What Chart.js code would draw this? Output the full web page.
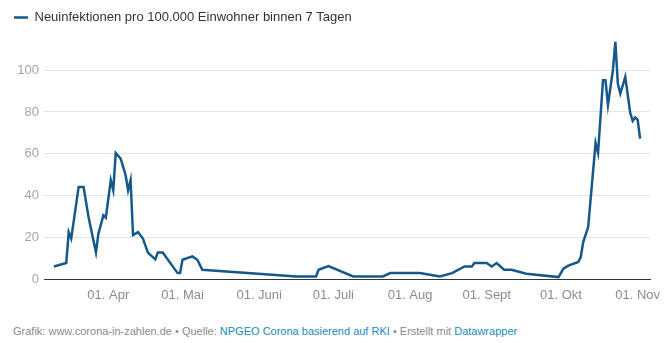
<!DOCTYPE html>
<html lang="de">
<head>
<meta charset="utf-8">
<title>Neuinfektionen pro 100.000 Einwohner</title>
<script src="https://cdn.jsdelivr.net/npm/chart.js@4/dist/chart.umd.min.js"></script>
<style>
  html, body { margin: 0; padding: 0; background: #fff; }
  #wrap { position: relative; width: 672px; height: 343px; font-family: "Liberation Sans", Arial, sans-serif; }
  #chart-box { position: absolute; left: 0; top: 0; width: 672px; height: 315px; }
  #footer { position: absolute; left: 13px; top: 325px; font-size: 11px; color: #8a8a8a; white-space: nowrap; }
  #footer a { color: #1b8ac0; text-decoration: none; }
</style>
</head>
<body>
<div id="wrap">
  <div id="chart-box"><canvas id="incidence-chart"></canvas></div>
  <div id="footer">Grafik: www.corona-in-zahlen.de &bull; Quelle: <a>NPGEO Corona basierend auf RKI</a> &bull; Erstellt mit <a>Datawrapper</a></div>
</div>
<script>
// 7-Tage-Inzidenz (2020)
const dates = [
  "2020-03-10", "2020-03-15", "2020-03-16", "2020-03-17", "2020-03-20", "2020-03-22",
  "2020-03-24", "2020-03-27", "2020-03-28", "2020-03-30", "2020-03-31", "2020-04-02",
  "2020-04-03", "2020-04-04", "2020-04-06", "2020-04-08", "2020-04-09", "2020-04-10",
  "2020-04-11", "2020-04-13", "2020-04-15", "2020-04-17", "2020-04-20", "2020-04-21",
  "2020-04-23", "2020-04-29", "2020-04-30", "2020-05-01", "2020-05-05", "2020-05-07",
  "2020-05-09", "2020-06-16", "2020-06-24", "2020-06-25", "2020-06-29", "2020-07-09",
  "2020-07-21", "2020-07-24", "2020-08-05", "2020-08-13", "2020-08-18", "2020-08-23",
  "2020-08-26", "2020-08-27", "2020-09-01", "2020-09-03", "2020-09-05", "2020-09-08",
  "2020-09-11", "2020-09-17", "2020-09-30", "2020-10-02", "2020-10-04", "2020-10-08",
  "2020-10-09", "2020-10-10", "2020-10-12", "2020-10-15", "2020-10-16", "2020-10-18",
  "2020-10-19", "2020-10-20", "2020-10-22", "2020-10-23", "2020-10-24", "2020-10-25",
  "2020-10-27", "2020-10-29", "2020-10-30", "2020-10-31", "2020-11-01", "2020-11-02"
];
const incidence = [
  6.2, 7.8, 22.6, 19.5, 44.2, 44.2,
  29.8, 12.9, 21.9, 30.6, 29.5, 47.4,
  42.6, 60.4, 57.7, 49.8, 42.6, 47.4,
  21.2, 22.6, 19.5, 12.8, 9.6, 12.8,
  12.8, 3.0, 3.0, 9.4, 11.0, 9.4,
  4.6, 1.4, 1.4, 4.6, 6.4, 1.4,
  1.4, 3.0, 3.0, 1.4, 3.0, 6.2,
  6.2, 7.8, 7.8, 6.2, 7.8, 4.6,
  4.6, 2.7, 1.1, 5.1, 6.6, 8.3,
  10.7, 17.8, 25.0, 65.2, 60.4, 95.2,
  95.2, 83.3, 100.0, 113.5, 93.6, 88.8,
  96.8, 79.6, 75.7, 77.4, 76.4, 67.3
];
const tickDates = ["2020-04-01", "2020-05-01", "2020-06-01", "2020-07-01", "2020-08-01", "2020-09-01", "2020-10-01", "2020-11-01"];
const tickLabels = ["01. Apr", "01. Mai", "01. Juni", "01. Juli", "01. Aug", "01. Sept", "01. Okt", "01. Nov"];
const yTicks = [0, 20, 40, 60, 80, 100];
const seriesLabel = "Neuinfektionen pro 100.000 Einwohner binnen 7 Tagen";

// days since 1 Jan 2020, so the x scale can stay linear
function dayNum(s) {
  const [y, m, d] = s.split("-").map(Number);
  return (Date.UTC(y, m - 1, d) - Date.UTC(2020, 0, 1)) / 86400000;
}

const points = dates.map((d, i) => ({ x: dayNum(d), y: incidence[i] }));
const tickDays = tickDates.map(dayNum);

// a bit of air between legend and plot
const legendGap = {
  id: "legendGap",
  beforeInit(chart) {
    const fit = chart.legend.fit;
    chart.legend.fit = function () {
      fit.bind(chart.legend)();
      this.height += 6;
    };
  }
};

Chart.defaults.font.family = '"Liberation Sans", Arial, sans-serif';
Chart.defaults.font.size = 13;

new Chart(document.getElementById("incidence-chart"), {
  type: "line",
  data: {
    datasets: [{
      label: seriesLabel,
      data: points,
      borderColor: "#15598c",
      backgroundColor: "#15598c",
      borderWidth: 2.5,
      pointRadius: 0,
      tension: 0,
      fill: false
    }]
  },
  options: {
    responsive: true,
    maintainAspectRatio: false,
    animation: false,
    events: [],
    layout: { padding: { left: 4, right: 22, top: 1, bottom: 4 } },
    plugins: {
      tooltip: { enabled: false },
      legend: {
        position: "top",
        align: "start",
        labels: {
          color: "#333",
          font: { size: 13 },
          padding: 10,
          usePointStyle: true,
          pointStyle: "line",
          pointStyleWidth: 14
        }
      }
    },
    scales: {
      x: {
        type: "linear",
        min: dayNum("2020-03-06"),
        max: dayNum("2020-11-06"),
        afterBuildTicks: scale => { scale.ticks = tickDays.map(v => ({ value: v })); },
        ticks: {
          color: "#8c8c8c",
          padding: 8,
          maxRotation: 0,
          autoSkip: false,
          callback: value => tickLabels[tickDays.indexOf(value)]
        },
        grid: { display: false, drawTicks: false },
        border: { display: true, color: "#333", width: 1 }
      },
      y: {
        min: 0,
        max: 114.4,
        afterBuildTicks: scale => { scale.ticks = yTicks.map(v => ({ value: v })); },
        afterFit: scale => { scale.width = 40; },
        ticks: { color: "#a5a5a5", padding: 5 },
        grid: {
          drawTicks: false,
          color: ctx => ctx.tick && ctx.tick.value === 0 ? "rgba(0,0,0,0)" : "#e4e4e4"
        },
        border: { display: false }
      }
    }
  },
  plugins: [legendGap]
});
</script>
</body>
</html>
